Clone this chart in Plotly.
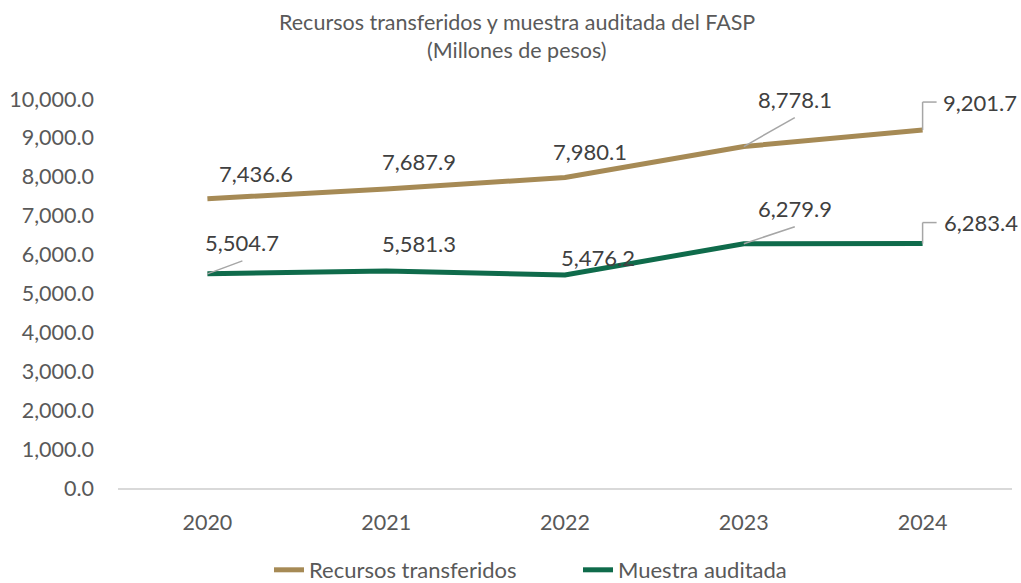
import plotly.graph_objects as go

years = ["2020", "2021", "2022", "2023", "2024"]
recursos = [7436.6, 7687.9, 7980.1, 8778.1, 9201.7]
muestra = [5504.7, 5581.3, 5476.2, 6279.9, 6283.4]
series_names = ["Recursos transferidos", "Muestra auditada"]
y_ticks = [0, 1000, 2000, 3000, 4000, 5000, 6000, 7000, 8000, 9000, 10000]

colors = ["#A68A55", "#0F6B4B"]
FONT = "Lato"
LABEL_C = "#404040"
TICK_C = "#595959"
LEADER_C = "#A6A6A6"

L, R, T, B = 118, 9, 99, 95
W, H = 1021, 583

# label offsets in pixels (dx, dy-up) and leader type per point
rec_off = [(49, 25, None), (33, 27, None), (25, 26, None), (51, 47, "diag"), (57, 28, "elbow")]
mue_off = [(35, 31, "diag"), (33, 27, None), (33, 17, None), (51, 35, "diag"), (58, 21, "elbow")]

fig = go.Figure()
for name, vals, col in zip(series_names, [recursos, muestra], colors):
    fig.add_trace(go.Scatter(x=years, y=vals, name=name, mode="lines",
                             line=dict(color=col, width=5)))

annotations = []
shapes = []
for vals, offs in [(recursos, rec_off), (muestra, mue_off)]:
    for i, (v, (dx, dy, kind)) in enumerate(zip(vals, offs)):
        annotations.append(dict(x=i, y=v, xref="x", yref="y", text=f"{v:,.1f}",
                                showarrow=False, xshift=dx, yshift=dy,
                                font=dict(family=FONT, size=22, color=LABEL_C)))
        base = dict(type="line", xref="x", yref="y", xsizemode="pixel", ysizemode="pixel",
                    xanchor=i, yanchor=v, line=dict(color=LEADER_C, width=1.5))
        if kind == "diag":
            shapes.append(dict(base, x0=0, y0=0, x1=dx, y1=dy - 18))
        elif kind == "elbow":
            shapes.append(dict(base, x0=0, y0=0, x1=0, y1=dy))
            shapes.append(dict(base, x0=0, y0=dy, x1=14, y1=dy))

pw, ph = W - L - R, H - T - B
for txt, ypx in [("Recursos transferidos y muestra auditada del FASP", 22),
                 ("(Millones de pesos)", 50)]:
    annotations.append(dict(x=(517 - L) / pw, y=(H - B - ypx) / ph, xref="paper", yref="paper",
                            showarrow=False, yanchor="middle", text=txt,
                            font=dict(family=FONT, size=21.5, color=TICK_C)))

fig.update_layout(
    width=W, height=H,
    margin=dict(l=L, r=R, t=T, b=B, autoexpand=False),
    paper_bgcolor="white", plot_bgcolor="white",
    font=dict(family=FONT, color=TICK_C),
    showlegend=True,
    legend=dict(orientation="h", xref="container", yref="container",
                x=269 / W, xanchor="left", y=1 - 570 / H, yanchor="middle",
                font=dict(family=FONT, size=22, color=TICK_C), entrywidth=264,
                tracegroupgap=0),
    annotations=annotations,
    shapes=shapes,
)
fig.update_xaxes(type="category", range=[-0.5, 4.5], showgrid=False, zeroline=False,
                 showline=True, linecolor="#D9D9D9", linewidth=1.5, ticks="",
                 automargin=False,
                 tickfont=dict(family=FONT, size=21.5, color=TICK_C), ticklabelstandoff=14)
fig.update_yaxes(range=[0, 10000], tickvals=y_ticks, tickformat=",.1f",
                 showgrid=False, zeroline=False, showline=False, ticks="",
                 automargin=False,
                 tickfont=dict(family=FONT, size=21.5, color=TICK_C), ticklabelstandoff=23)

fig.write_html("out.html", config={"displayModeBar": False},
               post_script="document.body.style.margin='0';document.body.style.overflow='hidden';")
